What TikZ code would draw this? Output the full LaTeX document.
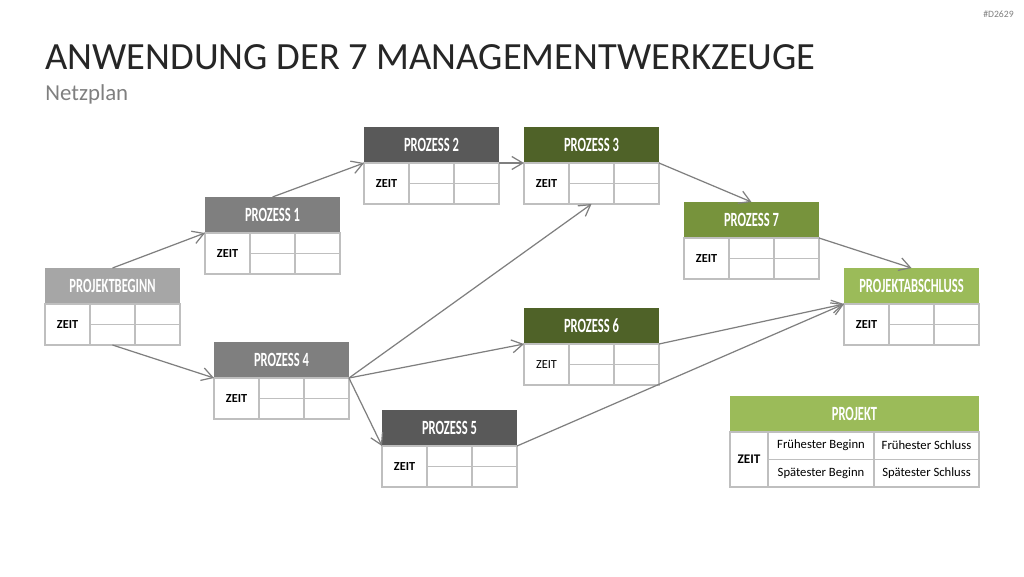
\documentclass[tikz,border=0pt]{standalone}
\usepackage{graphicx}
\usepackage{fontspec}
\setmainfont{Carlito}
\usetikzlibrary{arrows.meta,positioning,calc}
\definecolor{grauhell}{HTML}{A6A6A6}
\definecolor{graumittel}{HTML}{7F7F7F}
\definecolor{graudunkel}{HTML}{595959}
\definecolor{gruendunkel}{HTML}{4F6228}
\definecolor{gruenmittel}{HTML}{77933C}
\definecolor{gruenhell}{HTML}{9BBB59}
\definecolor{linie}{HTML}{BFBFBF}
\definecolor{titelgrau}{HTML}{262626}

% narrow header text
\newcommand{\kt}[1]{\scalebox{0.62}[1]{#1}}

% box: name, left, top, colour, title, extra style for ZEIT
\newcommand{\netzbox}[6]{%
  \node[kopf, fill=#4, anchor=north west] (#1) at (#2,#3) {\kt{#5}};
  \node[koerper, below=0pt of #1] (#1t) {};
  \draw[gitter] ($(#1t.north west)+(45,0)$) -- ($(#1t.south west)+(45,0)$)
    ($(#1t.north west)+(90,0)$) -- ($(#1t.south west)+(90,0)$)
    ($(#1t.west)+(45,0)$) -- (#1t.east);
  \node[zeit, #6] (#1z) at ($(#1t.west)+(22.5,0)$) {ZEIT};
}

\begin{document}
\begin{tikzpicture}[
  x=0.02cm, y=-0.02cm,
  kopf/.style={rectangle, inner sep=0pt, outer sep=0pt, minimum width=2.7cm, minimum height=0.72cm,
    text=white, font=\bfseries\fontsize{11.5}{13}\selectfont},
  koerper/.style={draw=linie, fill=white, rectangle, inner sep=0pt, outer sep=0pt, line width=0.8pt,
    minimum width=2.7cm, minimum height=0.82cm},
  gitter/.style={draw=linie, line width=0.8pt},
  zeit/.style={font=\bfseries\fontsize{7}{8}\selectfont, inner sep=0pt},
  normal/.style={font=\fontsize{7}{8}\selectfont},
  pfeil/.style={-{Straight Barb[length=2.2mm,width=2.6mm]}, draw=graumittel, line width=0.7pt},
  feld/.style={font=\fontsize{7.2}{8}\selectfont, text=black, inner sep=0pt},
]
\useasboundingbox (0,0) rectangle (1024,576);

% titles
\node[anchor=base west, inner sep=0pt, text=titelgrau, font=\fontsize{21.9}{24}\selectfont] (titel) at (45,69)
  {ANWENDUNG DER 7 MANAGEMENTWERKZEUGE};
\node[anchor=base west, inner sep=0pt, text=graumittel, font=\fontsize{13}{15}\selectfont] (untertitel) at (45,100) {Netzplan};
\node[anchor=base east, inner sep=0pt, text=graumittel, font=\fontsize{5.5}{6}\selectfont] (kennung) at (1014,17) {\#D2629};

% network
\netzbox{pb}{45}{268}{grauhell}{PROJEKTBEGINN}{}
\netzbox{p1}{205}{197}{graumittel}{PROZESS 1}{}
\netzbox{p2}{364}{127}{graudunkel}{PROZESS 2}{}
\netzbox{p3}{524}{127}{gruendunkel}{PROZESS 3}{}
\netzbox{p4}{214}{342}{graumittel}{PROZESS 4}{}
\netzbox{p5}{382}{410}{graudunkel}{PROZESS 5}{}
\netzbox{p6}{524}{308}{gruendunkel}{PROZESS 6}{normal}
\netzbox{p7}{684}{202}{gruenmittel}{PROZESS 7}{}
\netzbox{pa}{844}{268}{gruenhell}{PROJEKTABSCHLUSS}{}

\draw[pfeil] (pb.north) -- (p1.south west);
\draw[pfeil] (p1.north) -- (p2.south west);
\draw[pfeil] (p2.south east) -- (p3.south west);
\draw[pfeil] (p3.south east) -- (p7.north);
\draw[pfeil] (p7.south east) -- (pa.north);
\draw[pfeil] (pbt.south) -- (p4.south west);
\draw[pfeil] (p4.south east) -- (p3t.south);
\draw[pfeil] (p4.south east) -- (p6.south west);
\draw[pfeil] (p4.south east) -- (p5.south west);
\draw[pfeil] (p6.south east) -- (pa.south west);
\draw[pfeil] (p5.south east) -- (pa.south west);

% legend
\node[kopf, fill=gruenhell, anchor=north west, minimum width=4.98cm] (leg) at (730,396) {\kt{PROJEKT}};
\node[koerper, below=0pt of leg, minimum width=4.98cm, minimum height=1.1cm] (legt) {};
\draw[gitter] ($(legt.north west)+(38,0)$) -- ($(legt.south west)+(38,0)$)
  ($(legt.north west)+(144,0)$) -- ($(legt.south west)+(144,0)$)
  ($(legt.west)+(38,0)$) -- (legt.east);
\node[zeit, font=\bfseries\fontsize{7.5}{8}\selectfont] (legz) at ($(legt.west)+(19,0)$) {ZEIT};
\node[feld] (fb) at ($(legt.north west)+(91,13.5)$) {Frühester Beginn};
\node[feld] (fs) at ($(legt.north west)+(196.5,13.5)$) {Frühester Schluss};
\node[feld] (sb) at ($(legt.north west)+(91,41)$) {Spätester Beginn};
\node[feld] (ss) at ($(legt.north west)+(196.5,41)$) {Spätester Schluss};
\end{tikzpicture}
\end{document}
